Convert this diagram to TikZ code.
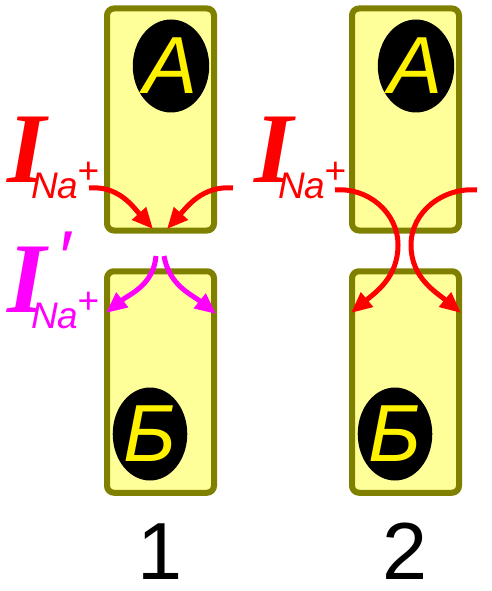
\documentclass[tikz,border=0pt]{standalone}
\usepackage{fontspec}
\setmainfont{Liberation Sans}
\newfontfamily\currfont{Liberation Serif}
\usetikzlibrary{arrows.meta,shapes.geometric}
\definecolor{cellfill}{RGB}{255,255,153}
\definecolor{celledge}{RGB}{128,128,0}
\definecolor{leakcol}{RGB}{255,0,255}
\definecolor{curcol}{RGB}{255,0,0}
\tikzset{cell/.style={draw=celledge,fill=cellfill,line width=6pt,rounded corners=7pt,
    minimum width=107pt,inner sep=0pt},
  nucl/.style={ellipse,fill=black,minimum width=64pt,minimum height=93pt,inner sep=0pt,
    text=yellow,font=\fontsize{81}{81}\selectfont\itshape},
  flow/.style={line width=5pt,-{Triangle[length=21pt,width=18pt]}}}
\newcommand{\bigI}{{\currfont\bfseries\itshape\fontsize{100}{100}\selectfont I}}
\newcommand{\subNa}{\raisebox{-16pt}{\fontsize{37}{37}\selectfont\itshape Na\kern-1pt\raisebox{15pt}{+}}}

\begin{document}
\begin{tikzpicture}[x=1pt,y=1pt,
  lbl/.style={anchor=base west,inner sep=0pt}]
\useasboundingbox (0,0) rectangle (492,-591);
% two cells with their nuclei
\foreach \n/\x in {1/160.5,2/405.5}{
  \node[cell,minimum height=222pt] (top\n) at (\x,-119.5) {};
  \node[cell,minimum height=221.5pt] (bot\n) at (\x,-382) {};
  \node[nucl] (nuA\n) at ([xshift=10.5pt]top\n.center |- 0,-66) {A};
  \node[nucl] (nuB\n) at ([xshift=-10.5pt]bot\n.center |- 0,-434) {Б};
  \node[font=\fontsize{81}{81}\selectfont] (num\n) at (\x,-551.5) {\n};
}
% currents
\node[lbl,text=curcol] (curone) at (7,-182) {\bigI\kern-15pt\subNa};
\node[lbl,text=curcol] (curtwo) at (254,-182) {\bigI\kern-15pt\subNa};
\node[lbl,text=leakcol] (leak) at (7,-312)
  {\bigI\rlap{\kern10pt\raisebox{29pt}{\fontsize{75}{75}\selectfont\itshape ′}}\kern-15pt\subNa};
% cell 1: current blocked at the gap
\coordinate (inL) at (89,-188);  \coordinate (tipL) at (153,-229);
\coordinate (inR) at (233,-188); \coordinate (tipR) at (167,-229);
\draw[flow,curcol] (inL) to[out=5,in=132] (tipL);
\draw[flow,curcol] (inR) to[out=175,in=48] (tipR);
\coordinate (lkL) at (156,-256); \coordinate (lkTipL) at (106,-313);
\coordinate (lkR) at (164,-256); \coordinate (lkTipR) at (216,-314);
\draw[flow,leakcol] (lkL) to[out=-95,in=39] (lkTipL);
\draw[flow,leakcol] (lkR) to[out=-80,in=141] (lkTipR);
% cell 2: current passes into the next cell
\coordinate (paL) at (335,-190); \coordinate (midL) at (398,-245); \coordinate (paTipL) at (351,-313);
\coordinate (paR) at (477,-190); \coordinate (midR) at (411,-245); \coordinate (paTipR) at (461,-313);
\draw[flow,curcol] (paL) to[out=5,in=90] (midL) to[out=-90,in=40] (paTipL);
\draw[flow,curcol] (paR) to[out=175,in=90] (midR) to[out=-90,in=140] (paTipR);
\end{tikzpicture}
\end{document}
